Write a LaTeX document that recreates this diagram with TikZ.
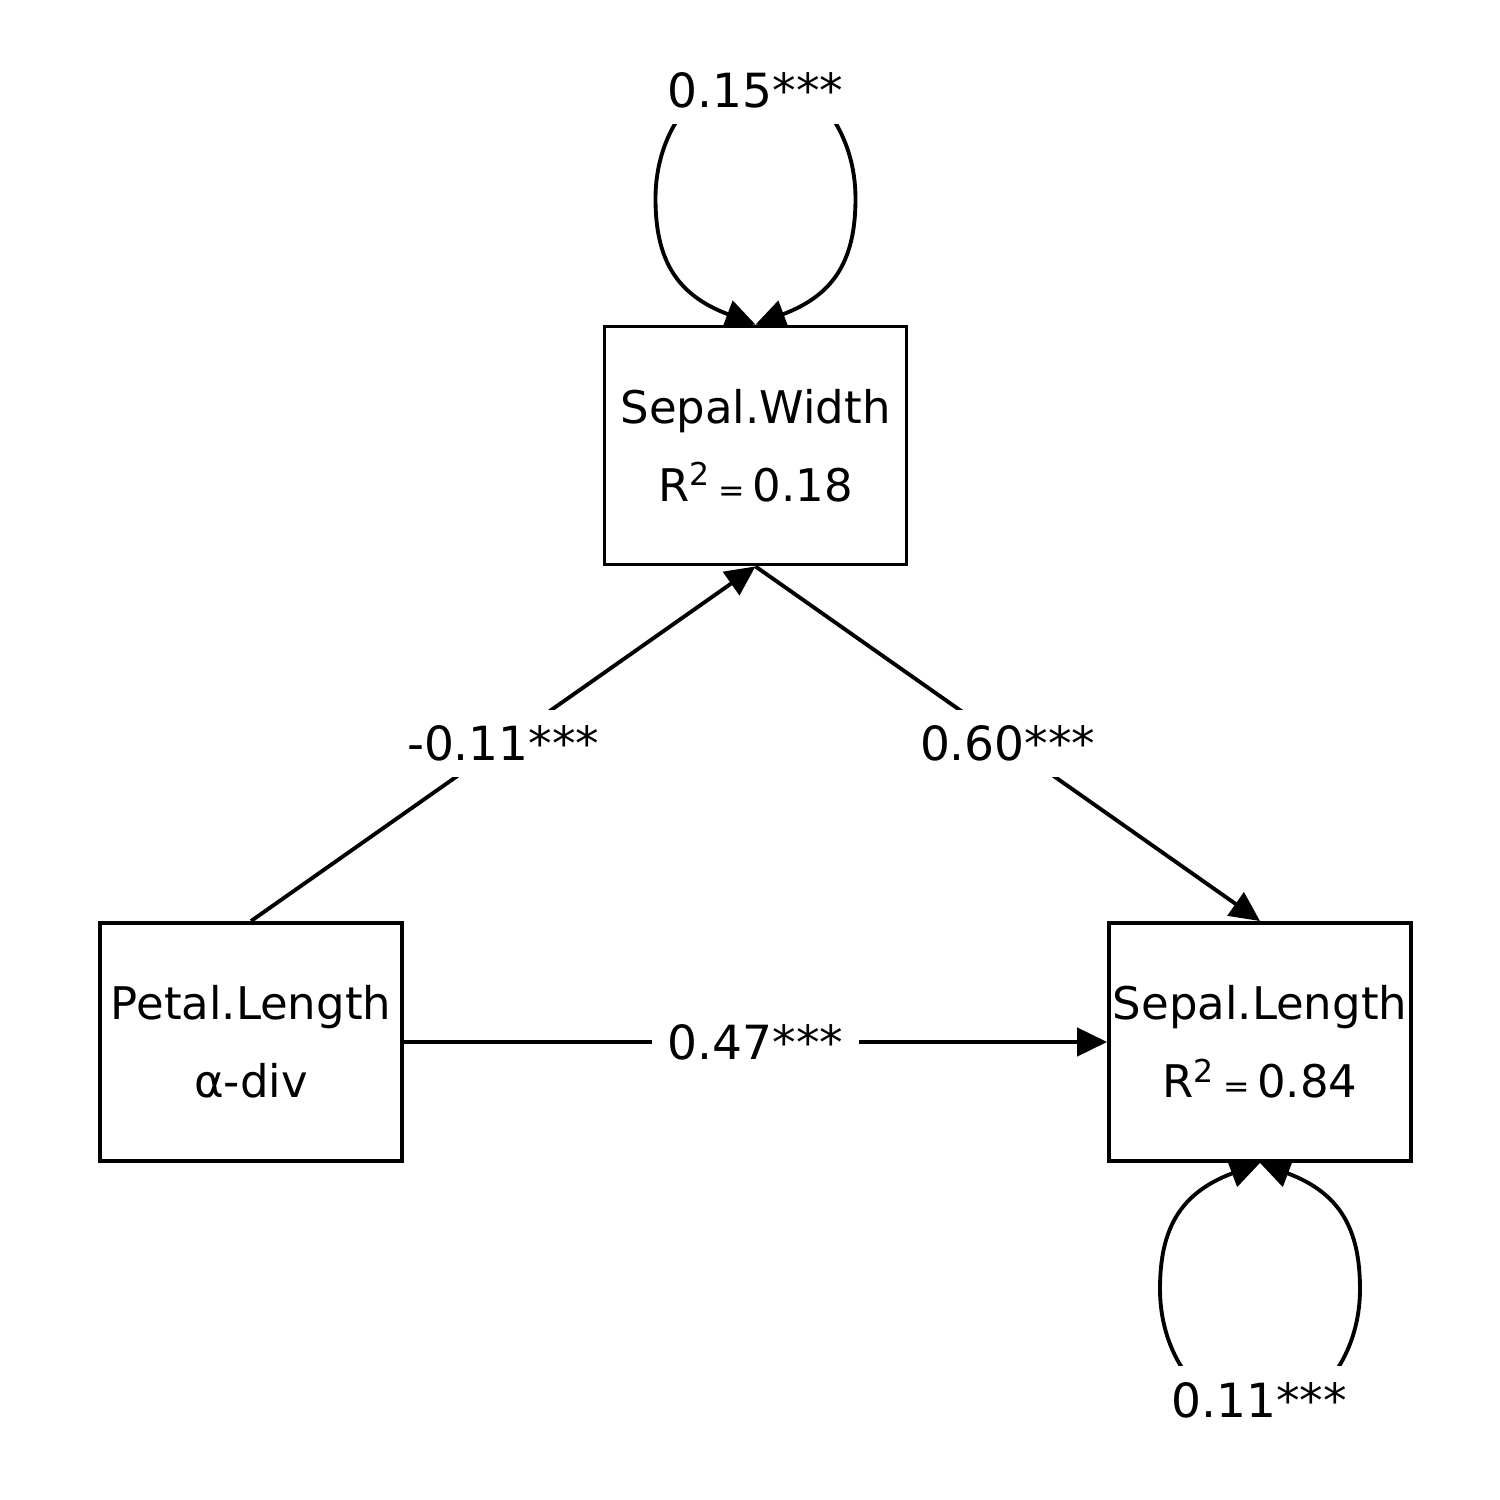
\documentclass[tikz,border=0pt]{standalone}
\usepackage{fontspec}
\setmainfont{DejaVu Sans}
\usetikzlibrary{arrows.meta}

\begin{document}
\begin{tikzpicture}[->, >={Triangle[length=8.5pt,width=8pt]}, line width=1.1pt, align=center]
\tikzstyle{v} = [rectangle, draw=black, minimum width=3.02cm, minimum height=2.38cm, inner sep=0pt, font=\fontsize{12.8}{22.2}\selectfont]
\tikzstyle{e} = [draw=black]
\tikzstyle{lp} = [draw=black, <->]
\tikzstyle{lbl} = [fill=white, inner sep=4.5pt, font=\fontsize{13.4}{16}\selectfont]

\useasboundingbox (0, 0) rectangle (15, 15);

\node[v](SW) at (7.555, 10.545) {Sepal.Width\\R\textsuperscript{2}\,{\small =}\,0.18};
\node[v](PL) at (2.51, 4.58) {Petal.Length\\α-div};
\node[v](SL) at (12.6, 4.58) {Sepal.Length\\R\textsuperscript{2}\,{\small =}\,0.84};

\draw[e] (PL.north) to node[lbl] (pw) {-0.11***} (SW.south);
\draw[e] (SW.south) to node[lbl] (ws) {0.60***} (SL.north);
\draw[e] (PL.east) to node[lbl] (pl) {0.47***} (SL.west);

% variances
\draw[lp] (SW.north) .. controls +(-0.8,0.3) and +(0,-0.6) .. ++(-1,1.26)
  .. controls +(0,0.7) and +(-0.55,0) .. ++(1,1.26)
  .. controls +(0.55,0) and +(0,0.7) .. ++(1,-1.26)
  .. controls +(0,-0.6) and +(0.8,0.3) .. (SW.north);
\node[lbl](vSW) at (7.555, 14.10) {0.15***};
\draw[lp] (SL.south) .. controls +(-0.8,-0.3) and +(0,0.6) .. ++(-1,-1.26)
  .. controls +(0,-0.7) and +(-0.55,0) .. ++(1,-1.26)
  .. controls +(0.55,0) and +(0,-0.7) .. ++(1,1.26)
  .. controls +(0,0.6) and +(0.8,-0.3) .. (SL.south);
\node[lbl](vSL) at (12.59, 1.0) {0.11***};
\end{tikzpicture}
\end{document}
